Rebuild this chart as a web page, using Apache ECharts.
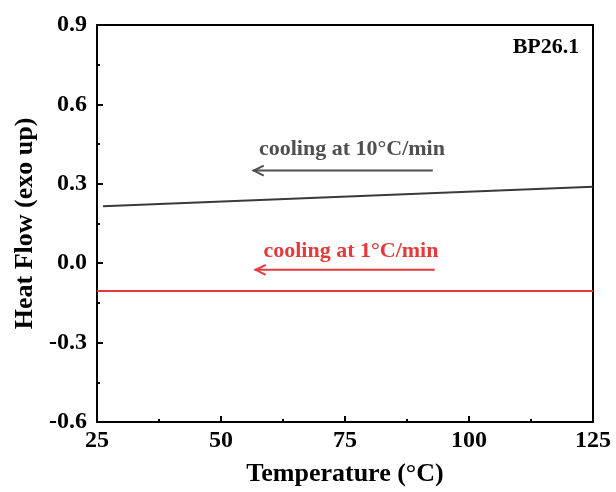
<!DOCTYPE html>
<html><head><meta charset="utf-8">
<script src="https://cdn.jsdelivr.net/npm/echarts@6/dist/echarts.min.js"></script>
<style>html,body{margin:0;padding:0;background:#fff}#c{width:616px;height:492px}</style>
</head><body><div id="c"></div>
<script>
var xTicks = [25, 50, 75, 100, 125];
var yTicks = [-0.6, -0.3, 0.0, 0.3, 0.6, 0.9];
var cool10 = [[26.2, 0.215], [125, 0.289]];
var cool1 = [[25, -0.105], [125, -0.105]];
var arrowLabels = ['cooling at 10°C/min', 'cooling at 1°C/min'];
var arrowColors = ['#4f4f4f', '#e8383a'];
var arrowFrom = [[92.7, 0.35], [93.1, -0.025]];
var arrowTo = [[56.4, 0.35], [56.8, -0.025]];
var labelPos = [[76.4, 0.43], [76.2, 0.045]];

var font = '"Liberation Serif", "Times New Roman", serif';
var chart = echarts.init(document.getElementById('c'));
var annData = arrowLabels.map(function (t, i) {
  return [arrowFrom[i][0], arrowFrom[i][1], arrowTo[i][0], arrowTo[i][1], labelPos[i][0], labelPos[i][1], i];
});
chart.setOption({
  animation: false,
  grid: { left: 97, right: 23, top: 25, bottom: 69 },
  xAxis: [{
    type: 'value', min: 25, max: 125, interval: 25,
    name: 'Temperature (°C)', nameLocation: 'middle', nameGap: 39,
    nameTextStyle: { fontFamily: font, fontWeight: 'bold', fontSize: 26, color: '#000' },
    axisLine: { show: true, onZero: false, lineStyle: { color: '#000', width: 2 } },
    axisTick: { show: true, inside: true, length: 6, lineStyle: { color: '#000', width: 2 } },
    minorTick: { show: true, splitNumber: 2, length: 3, lineStyle: { color: '#000', width: 2 } },
    axisLabel: { fontFamily: font, fontWeight: 'bold', fontSize: 24, color: '#000', margin: 7 },
    splitLine: { show: false }
  }, {
    type: 'value', min: 25, max: 125, position: 'top',
    axisLine: { show: true, onZero: false, lineStyle: { color: '#000', width: 2 } },
    axisTick: { show: false }, axisLabel: { show: false }, splitLine: { show: false }
  }],
  yAxis: [{
    type: 'value', min: -0.6, max: 0.9, interval: 0.3,
    name: 'Heat Flow (exo up)', nameLocation: 'middle', nameGap: 58,
    nameTextStyle: { fontFamily: font, fontWeight: 'bold', fontSize: 26, color: '#000' },
    axisLine: { show: true, onZero: false, lineStyle: { color: '#000', width: 2 } },
    axisTick: { show: true, inside: true, length: 6, lineStyle: { color: '#000', width: 2 } },
    minorTick: { show: true, splitNumber: 2, length: 3, lineStyle: { color: '#000', width: 2 } },
    axisLabel: { fontFamily: font, fontWeight: 'bold', fontSize: 24, color: '#000', margin: 10,
      formatter: function (v) { return v.toFixed(1); } },
    splitLine: { show: false }
  }, {
    type: 'value', min: -0.6, max: 0.9, position: 'right',
    axisLine: { show: true, onZero: false, lineStyle: { color: '#000', width: 2 } },
    axisTick: { show: false }, axisLabel: { show: false }, splitLine: { show: false }
  }],
  graphic: [{
    type: 'text', x: 546, y: 47,
    style: { text: 'BP26.1', fontFamily: font, fontWeight: 'bold', fontSize: 22, fill: '#000',
      align: 'center', verticalAlign: 'middle' }
  }],
  series: [{
    type: 'line', data: cool10, symbol: 'none',
    lineStyle: { color: '#3a3a3a', width: 2 }
  }, {
    type: 'line', data: cool1, symbol: 'none',
    lineStyle: { color: '#e8383a', width: 2 }
  }, {
    type: 'custom', data: annData, silent: true,
    renderItem: function (params, api) {
      var p1 = api.coord([api.value(0), api.value(1)]);
      var p2 = api.coord([api.value(2), api.value(3)]);
      var pt = api.coord([api.value(4), api.value(5)]);
      var i = api.value(6);
      var col = arrowColors[i];
      return {
        type: 'group',
        children: [{
          type: 'line', shape: { x1: p1[0], y1: p1[1], x2: p2[0], y2: p2[1] },
          style: { stroke: col, lineWidth: 2 }
        }, {
          type: 'polyline', shape: { points: [[p2[0] + 11, p2[1] - 5], [p2[0] + 1, p2[1]], [p2[0] + 11, p2[1] + 5]] },
          style: { stroke: col, lineWidth: 2, fill: null }
        }, {
          type: 'text', x: pt[0], y: pt[1],
          style: { text: arrowLabels[i], fontFamily: font, fontWeight: 'bold', fontSize: 22,
            fill: col, align: 'center', verticalAlign: 'middle' }
        }]
      };
    }
  }]
});
</script></body></html>
